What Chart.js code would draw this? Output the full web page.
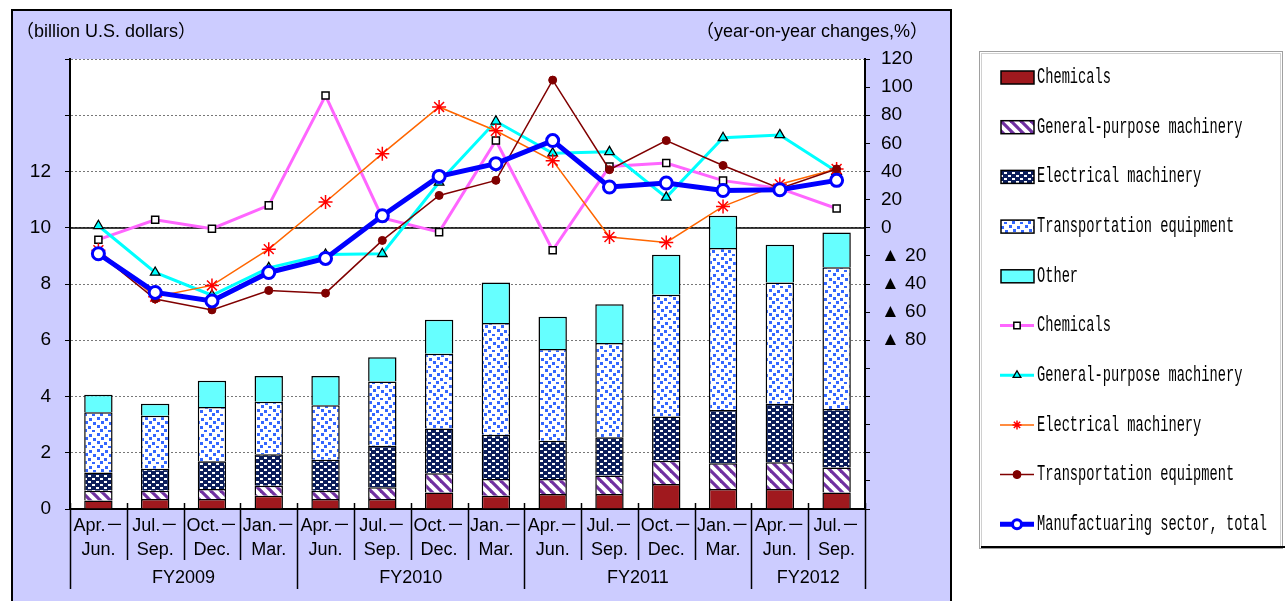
<!DOCTYPE html>
<html>
<head>
<meta charset="utf-8">
<script src="https://cdn.jsdelivr.net/npm/chart.js@4.4.0/dist/chart.umd.min.js"></script>
<style>
html,body{margin:0;padding:0;background:#fff;overflow:hidden}
</style>
</head>
<body>
<canvas id="c" width="1285" height="601"></canvas>
<script>
// quarters and fiscal years
var periods = [
	["Apr.－","Jun."],["Jul.－","Sep."],["Oct.－","Dec."],["Jan.－","Mar."],
	["Apr.－","Jun."],["Jul.－","Sep."],["Oct.－","Dec."],["Jan.－","Mar."],
	["Apr.－","Jun."],["Jul.－","Sep."],["Oct.－","Dec."],["Jan.－","Mar."],
	["Apr.－","Jun."],["Jul.－","Sep."]
];
var fiscalYears = ["FY2009","FY2010","FY2011","FY2012"];
var fyQuarters = [4,4,4,2];

// amounts, billion U.S. dollars (bars, left axis)
var chemAmt  = [0.30,0.36,0.36,0.47,0.36,0.36,0.59,0.47,0.53,0.53,0.89,0.71,0.71,0.59];
var gpAmt    = [0.35,0.29,0.35,0.36,0.29,0.41,0.68,0.60,0.54,0.66,0.83,0.92,0.95,0.89];
var elecAmt  = [0.65,0.78,0.99,1.12,1.10,1.48,1.59,1.57,1.36,1.36,1.57,1.89,2.08,2.08];
var transAmt = [2.14,1.89,1.93,1.86,1.94,2.28,2.66,3.97,3.26,3.35,4.33,5.76,4.31,5.04];
var otherAmt = [0.62,0.42,0.93,0.92,1.04,0.87,1.21,1.44,1.15,1.38,1.42,1.15,1.35,1.23];

// year-on-year changes, % (lines, right axis)
var chemPct  = [-8.5,5.7,-0.7,15.9,94,7,-3.1,62,-16,43.6,46,33.5,28,13.7];
var gpPct    = [1.4,-31.8,-48,-28.5,-19,-18.5,32.3,75.7,53,54,21.6,64,66,40];
var elecPct  = [-16,-49,-41,-15.2,18.3,52.7,85.9,69,47.7,-6.6,-10.4,15.2,31,41.8];
var transPct = [-18,-50.7,-58.4,-44.6,-46.5,-9,23,33.7,105,41.3,62,44.3,28,41.8];
var totalPct = [-18.5,-46,-52,-31.8,-21.8,8.5,36.5,45.6,62,29,31.8,26.5,27,33.7];

var FONT = "'Liberation Sans', 'DejaVu Sans', 'Noto Sans CJK JP', sans-serif";

var canvas = document.getElementById("c");
var ctx = canvas.getContext("2d");

// fill patterns for the bars
function tile(w, h, draw){
	var t = document.createElement("canvas");
	t.width = w; t.height = h;
	draw(t.getContext("2d"), w, h);
	return ctx.createPattern(t, "repeat");
}
var gpFill = tile(10, 10, function(g, w, h){
	g.fillStyle = "#fff"; g.fillRect(0, 0, w, h);
	g.strokeStyle = "#7030A0"; g.lineWidth = 3.2;
	for (var k = -10; k <= 10; k += 10){
		g.beginPath(); g.moveTo(-2, k - 2); g.lineTo(w + 2, k + w + 2); g.stroke();
	}
});
var elecFill = tile(8, 6, function(g, w, h){
	g.fillStyle = "#0C1E5B"; g.fillRect(0, 0, w, h);
	g.fillStyle = "#fff";
	g.fillRect(0, 1, 3, 2);
	g.fillRect(4, 4, 3, 2);
});
var transFill = tile(16, 16, function(g, w, h){
	g.fillStyle = "#fff"; g.fillRect(0, 0, w, h);
	g.fillStyle = "#3366FF";
	var sq = [[1,1],[9,2],[5,5],[13,6],[1,9],[8,10],[4,13],[12,14]];
	for (var i = 0; i < sq.length; i++) g.fillRect(sq[i][0], sq[i][1], 3, 3);
});

function barSet(label, data, fill){
	return {type:"bar", label:label, data:data, yAxisID:"y", stack:"amt",
		backgroundColor:fill, borderColor:"#000", borderWidth:1.5,
		barPercentage:0.5, categoryPercentage:1, order:10};
}
function lineSet(label, data, o){
	return Object.assign({type:"line", label:label, data:data, yAxisID:"y1",
		tension:0, fill:false}, o);
}

var datasets = [
	barSet("Chemicals", chemAmt, "#A0191E"),
	barSet("General-purpose machinery", gpAmt, gpFill),
	barSet("Electrical machinery", elecAmt, elecFill),
	barSet("Transportation equipment", transAmt, transFill),
	barSet("Other", otherAmt, "#66FFFF"),
	lineSet("Chemicals", chemPct, {borderColor:"#FF66FF", borderWidth:3, pointStyle:"rect",
		pointRadius:5, pointBackgroundColor:"#fff", pointBorderColor:"#000", pointBorderWidth:1.5, order:5}),
	lineSet("General-purpose machinery", gpPct, {borderColor:"#00FFFF", borderWidth:3, pointStyle:"triangle",
		pointRadius:5.5, pointBackgroundColor:"#00FFFF", pointBorderColor:"#000", pointBorderWidth:1.3, order:4}),
	lineSet("Electrical machinery", elecPct, {borderColor:"#FF6600", borderWidth:1.5, pointStyle:"star",
		pointRadius:7, pointBackgroundColor:"#FF0000", pointBorderColor:"#FF0000", pointBorderWidth:1.5, order:3}),
	lineSet("Transportation equipment", transPct, {borderColor:"#800000", borderWidth:1.5, pointStyle:"circle",
		pointRadius:4, pointBackgroundColor:"#800000", pointBorderColor:"#800000", pointBorderWidth:1, order:2}),
	lineSet("Manufactuaring sector, total", totalPct, {borderColor:"#0000FF", borderWidth:5, pointStyle:"circle",
		pointRadius:6, pointBackgroundColor:"#fff", pointBorderColor:"#0000FF", pointBorderWidth:3, order:1})
];

// panel background, titles, zero line, fiscal-year axis and the boxed legend
var frame = {
	id:"frame",
	beforeDraw:function(chart){
		var c = chart.ctx, a = chart.chartArea;
		c.save();
		c.fillStyle = "#fff"; c.fillRect(0, 0, chart.width, chart.height);
		c.fillStyle = "#CCCCFF"; c.fillRect(12, 10, 939, 600);
		c.strokeStyle = "#000"; c.lineWidth = 2;
		c.beginPath(); c.moveTo(12, 610); c.lineTo(12, 10); c.lineTo(951, 10); c.lineTo(951, 610); c.stroke();
		c.fillStyle = "#fff"; c.fillRect(a.left, a.top, a.right - a.left, a.bottom - a.top);
		c.fillStyle = "#000"; c.font = "18px " + FONT; c.textBaseline = "middle";
		c.textAlign = "left"; c.fillText("（billion U.S. dollars）", 16, 32);
		c.textAlign = "right"; c.fillText("（year-on-year changes,%）", 928, 32);
		c.restore();
	},
	beforeDatasetsDraw:function(chart){
		var c = chart.ctx, a = chart.chartArea;
		var y0 = Math.round(chart.scales.y1.getPixelForValue(0));
		c.save();
		c.strokeStyle = "#000"; c.lineWidth = 1.5;
		c.beginPath(); c.moveTo(a.left, y0); c.lineTo(a.right, y0); c.stroke();
		c.restore();
	},
	afterDraw:function(chart){
		var c = chart.ctx, x = chart.scales.x, a = chart.chartArea;
		var n = periods.length;
		function edge(i){
			if (i <= 0) return a.left;
			if (i >= n) return a.right;
			return (x.getPixelForValue(i - 1) + x.getPixelForValue(i)) / 2;
		}
		c.save();
		c.strokeStyle = "#000"; c.lineWidth = 1.5;
		var starts = [0], s = 0;
		for (var k = 0; k < fyQuarters.length; k++){ s += fyQuarters[k]; starts.push(s); }
		for (var i = 0; i <= n; i++){
			var ex = Math.round(edge(i)) + 0.5;
			var longLine = starts.indexOf(i) >= 0;
			c.beginPath(); c.moveTo(ex, a.bottom - 6); c.lineTo(ex, longLine ? 589 : 560); c.stroke();
		}
		c.fillStyle = "#000"; c.font = "18px " + FONT; c.textAlign = "center"; c.textBaseline = "middle";
		for (var f = 0; f < fiscalYears.length; f++){
			var cx = (edge(starts[f]) + edge(starts[f + 1])) / 2;
			c.fillText(fiscalYears[f], cx, 578);
		}

		// legend box
		var bx = 979, by = 51, bw = 303, bh = 497;
		c.fillStyle = "#fff"; c.fillRect(bx, by, bw, bh);
		c.strokeStyle = "#A0A0A0"; c.lineWidth = 1;
		c.strokeRect(bx + 0.5, by + 0.5, bw, bh);
		c.strokeStyle = "#D0D0D0";
		c.strokeRect(bx + 2.5, by + 2.5, bw - 4, bh - 4);
		c.strokeStyle = "#000"; c.lineWidth = 2;
		c.beginPath(); c.moveTo(bx + 2, by + bh - 1); c.lineTo(bx + bw + 3, by + bh - 1); c.stroke();

		var sets = chart.data.datasets;
		for (var j = 0; j < sets.length; j++){
			var d = sets[j], ly = 77 + j * 49.7;
			if (d.type === "bar"){
				c.fillStyle = d.backgroundColor;
				c.fillRect(1001, ly - 6, 33, 13);
				c.strokeStyle = "#000"; c.lineWidth = 1.5;
				c.strokeRect(1001, ly - 6, 33, 13);
			} else {
				c.strokeStyle = d.borderColor; c.lineWidth = d.borderWidth;
				c.beginPath(); c.moveTo(1000, ly); c.lineTo(1034, ly); c.stroke();
				c.fillStyle = d.pointBackgroundColor; c.strokeStyle = d.pointBorderColor;
				c.lineWidth = d.pointBorderWidth;
				Chart.helpers.drawPoint(c, {pointStyle:d.pointStyle, radius:Math.min(d.pointRadius, 4.5),
					borderWidth:d.pointBorderWidth, rotation:0}, 1017, ly);
			}
			c.save();
			c.translate(1037, ly);
			c.scale(1, 1.6);
			c.fillStyle = "#000"; c.font = "13.7px 'Liberation Mono', 'DejaVu Sans Mono', monospace";
			c.textAlign = "left"; c.textBaseline = "middle";
			c.fillText(d.label, 0, 0);
			c.restore();
		}
		c.restore();
	}
};

new Chart(ctx, {
	data:{labels:periods, datasets:datasets},
	options:{
		responsive:false, animation:false, devicePixelRatio:1,
		layout:{padding:{left:0, top:59, right:335, bottom:0}},
		plugins:{legend:{display:false}, tooltip:{enabled:false}},
		scales:{
			x:{
				stacked:true,
				afterFit:function(s){ s.height = 92; },
				grid:{display:false, drawTicks:false},
				border:{display:true, color:"#000", width:2},
				ticks:{autoSkip:false, maxRotation:0, padding:5, color:"#000",
					font:{family:FONT, size:18, lineHeight:1.33}}
			},
			y:{
				position:"left", stacked:true, min:0, max:16,
				afterFit:function(s){ s.width = 70; },
				grid:{color:"#777", lineWidth:1, tickLength:5, tickColor:"#000", tickBorderDash:[]},
				border:{display:true, color:"#000", width:2, dash:[2,2]},
				ticks:{stepSize:2, padding:14, color:"#000", font:{family:FONT, size:19},
					callback:function(v){ return v > 12 ? "" : String(v); }}
			},
			y1:{
				position:"right", min:-200, max:120,
				afterFit:function(s){ s.width = 85; },
				grid:{drawOnChartArea:false, tickLength:5, tickColor:"#000"},
				border:{display:true, color:"#000", width:2},
				ticks:{stepSize:20, padding:11, color:"#000", font:{family:FONT, size:19},
					callback:function(v){
						if (v >= 0) return String(v);
						if (v >= -80) return "▲ " + (-v);
						return "";
					}}
			}
		}
	},
	plugins:[frame]
});
</script>
</body>
</html>
